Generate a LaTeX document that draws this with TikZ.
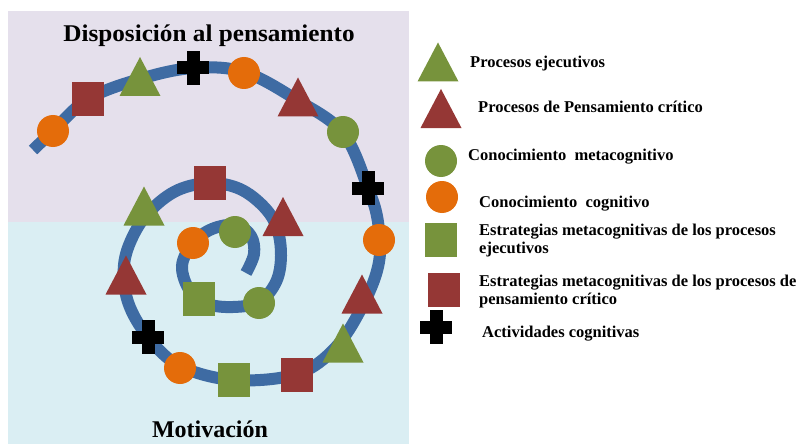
\documentclass[tikz,border=0pt]{standalone}
\usepackage{fontspec}
\setmainfont{Liberation Serif}
\definecolor{lavender}{HTML}{E5E0EC}
\definecolor{paleblue}{HTML}{DAEEF3}
\definecolor{spiralblue}{RGB}{62,107,163}
\definecolor{leafgreen}{HTML}{77933C}
\definecolor{brickred}{HTML}{953735}
\definecolor{pumpkin}{HTML}{E46C0A}
\def\mkcirc(#1,#2)#3{\fill[#3] (#1,#2) circle (16);}
\def\mksq(#1,#2)#3{\fill[#3] ({#1-16},{#2-17}) rectangle ({#1+16},{#2+17});}
\def\mktri(#1,#2)#3{\fill[#3] ({#1-20.5},{#2+19.5}) -- (#1,{#2-19.5}) -- ({#1+20.5},{#2+19.5}) -- cycle;}
\def\mkcross(#1,#2){\fill[black] ({#1-6.5},{#2-17}) rectangle ({#1+6.5},{#2+17});
	\fill[black] ({#1-16},{#2-6.5}) rectangle ({#1+16},{#2+6.5});}
\tikzset{
	spiralline/.style={line width=12pt, color=spiralblue},
	paneltitle/.style={inner sep=0pt, anchor=base, font=\bfseries\fontsize{24}{28}\selectfont},
	legtext/.style={inner sep=0pt, anchor=base west, align=left, font=\bfseries\fontsize{16.5}{17.5}\selectfont}
}

\begin{document}
\begin{tikzpicture}[x=1pt, y=-1pt]
			%%%%% START %%%%%
			\useasboundingbox (0, 0) rectangle (804, 444);
			
			\fill[lavender] (8, 11) rectangle (409, 222);
			\fill[paleblue] (8, 222) rectangle (409, 444);
			
			\node[paneltitle, xscale=1.05] (dispo) at (209, 42) {Disposición al pensamiento};
			\node[paneltitle] (motiv) at (210, 437) {Motivación};
			
			% spiral, from the inner end outwards
			\draw[spiralline] plot[smooth, tension=0.6] coordinates {
				(246, 273) (254, 254) (251, 236) (236, 225) (212, 229) (193, 243)
				(182, 266) (190, 291) (208, 304) (233, 307) (259, 302) (276, 282)
				(281, 256) (277, 228) (264, 207) (240, 189) (210, 183) (178, 190)
				(152, 209) (134, 234) (124, 265) (128, 302) (148, 337) (180, 366)
				(234, 380) (297, 374) (336, 347) (364, 303) (379, 262) (378, 222)
				(368, 188) (343, 133) (297, 100) (244, 72) (193, 68) (140, 79)
				(88, 99) (53, 131) (33, 150)};
			
			\mkcirc(53, 131){pumpkin}
			\mksq(88, 99){brickred}
			\mktri(140, 76.5){leafgreen}
			\mkcross(193, 68)
			\mkcirc(244, 73){pumpkin}
			\mktri(298, 97){brickred}
			\mkcirc(343, 132){leafgreen}
			\mkcross(368, 188)
			\mkcirc(379, 240){pumpkin}
			\mktri(362, 294){brickred}
			\mktri(343, 343){leafgreen}
			\mksq(297, 375){brickred}
			\mksq(234, 380){leafgreen}
			\mkcirc(180, 368){pumpkin}
			\mkcross(148, 337)
			\mktri(126, 275){brickred}
			\mktri(144, 206){leafgreen}
			\mksq(210, 183){brickred}
			\mktri(283, 216.5){brickred}
			\mkcirc(259, 303){leafgreen}
			\mksq(199, 299){leafgreen}
			\mkcirc(193, 243){pumpkin}
			\mkcirc(235, 232){leafgreen}
			
			% legend
			\mktri(438, 62){leafgreen}
			\node[legtext] (ejec) at (470, 68) {Procesos ejecutivos};
			\mktri(441, 108.5){brickred}
			\node[legtext] (pcrit) at (478, 113) {Procesos de Pensamiento crítico};
			\mkcirc(441, 161){leafgreen}
			\node[legtext] (cmeta) at (468, 160) {Conocimiento~ metacognitivo};
			\mkcirc(442, 197){pumpkin}
			\node[legtext] (ccogn) at (479, 207) {Conocimiento~ cognitivo};
			\mksq(441, 240){leafgreen}
			\node[legtext] (estej) at (479, 253) {Estrategias metacognitivas de los procesos\\ejecutivos};
			\mksq(443.5, 289.5){brickred}
			\node[legtext] (estpc) at (479, 304) {Estrategias metacognitivas de los procesos de\\pensamiento crítico};
			\mkcross(436, 327)
			\node[legtext] (activ) at (482, 337) {Actividades cognitivas};
			
			%%%%% END %%%%%
\end{tikzpicture}
\end{document}
